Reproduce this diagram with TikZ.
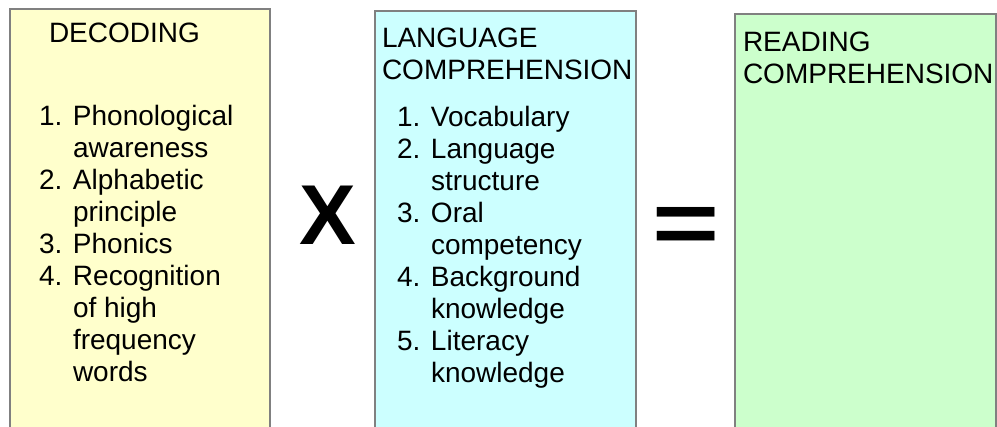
\documentclass[tikz,border=0pt]{standalone}
\usepackage{fontspec}
\setmainfont{Liberation Sans}
\definecolor{decfill}{HTML}{FFFFCC}
\definecolor{langfill}{HTML}{CCFFFF}
\definecolor{readfill}{HTML}{CCFFCC}
\definecolor{edge}{HTML}{808080}
\tikzset{
  panel/.style={draw=edge, line width=1.2pt},
  txt/.style={anchor=base west, inner sep=0pt, outer sep=0pt, font=\fontsize{28}{32}\selectfont},
  bigsym/.style={inner sep=0pt, outer sep=0pt},
}
\newcommand{\itm}[1]{\makebox[34pt][l]{#1}}
\begin{document}
\begin{tikzpicture}[x=1pt,y=-1pt]
\useasboundingbox (0,0) rectangle (997,427);
\begin{scope}
\clip (0,0) rectangle (997,427);
\draw[panel, fill=decfill] (10,9) rectangle (270,440);
\draw[panel, fill=langfill] (375,11) rectangle (636,440);
\draw[panel, fill=readfill] (735,14) rectangle (996,440);
\end{scope}
% Decoding
\node[txt] (dech) at (49,43) {DECODING};
\node[txt] (decl) at (39,126) {\begin{tabular}[t]{@{}l@{}}
\itm{1.}Phonological\\
\itm{}awareness\\
\itm{2.}Alphabetic\\
\itm{}principle\\
\itm{3.}Phonics\\
\itm{4.}Recognition\\
\itm{}of high\\
\itm{}frequency\\
\itm{}words
\end{tabular}};
% Language
\node[txt] (langh) at (382,48) {\begin{tabular}[t]{@{}l@{}}LANGUAGE\\COMPREHENSION\end{tabular}};
\node[txt] (langl) at (397,127) {\begin{tabular}[t]{@{}l@{}}
\itm{1.}Vocabulary\\
\itm{2.}Language\\
\itm{}structure\\
\itm{3.}Oral\\
\itm{}competency\\
\itm{4.}Background\\
\itm{}knowledge\\
\itm{5.}Literacy\\
\itm{}knowledge
\end{tabular}};
% Reading
\node[txt] (readh) at (743,52) {\begin{tabular}[t]{@{}l@{}}READING\\COMPREHENSION\end{tabular}};
% symbols
\node[bigsym, font=\fontsize{85}{85}\selectfont\bfseries] (times) at (328,215.5) {X};
\node[bigsym, font=\fontsize{115}{115}\selectfont\bfseries] (equals) at (686.5,230.5) {\scalebox{1}[0.77]{=}};
\end{tikzpicture}
\end{document}
